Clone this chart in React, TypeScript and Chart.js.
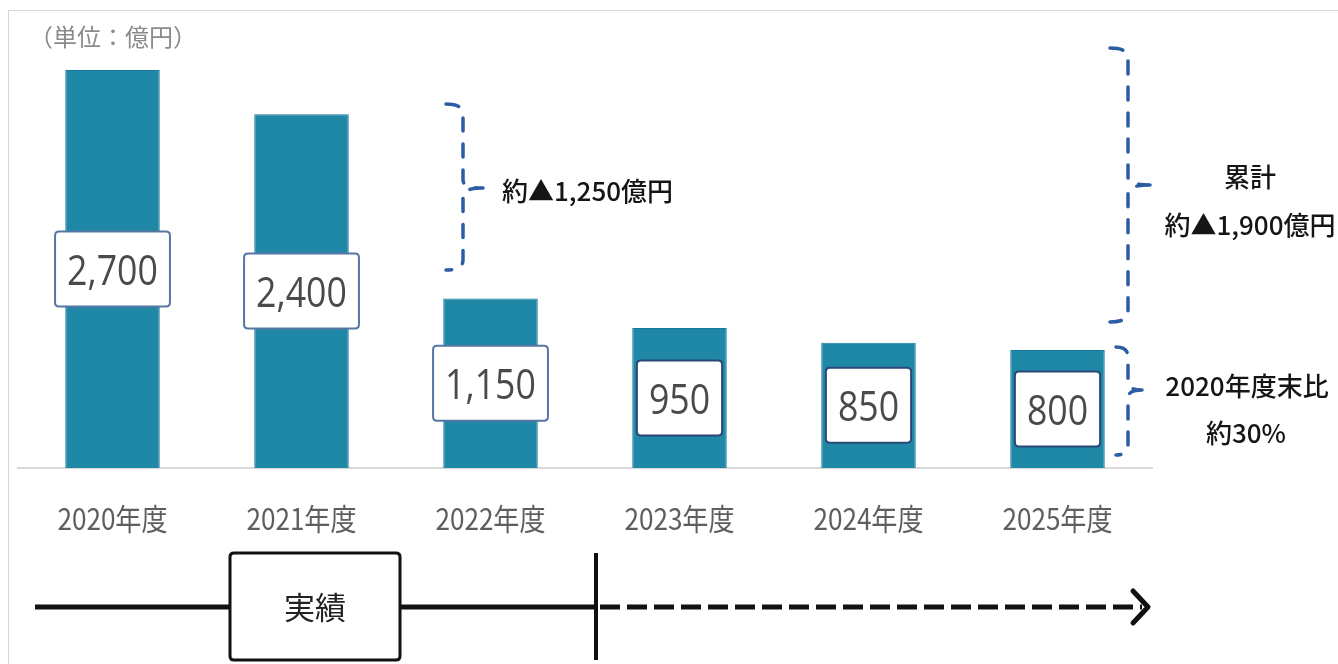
import React, { useEffect, useRef } from "react";
import { Chart, registerables } from "chart.js";

Chart.register(...registerables);

// ---- data ----
const categories = ["2020年度", "2021年度", "2022年度", "2023年度", "2024年度", "2025年度"];
const values = [2700, 2400, 1150, 950, 850, 800];
const valueLabels = values.map((v) => v.toLocaleString("en-US"));
const unitLabel = "（単位：億円）";
const noteReduction = "約▲1,250億円";
const noteTotalTitle = "累計";
const noteTotal = "約▲1,900億円";
const noteRatioTitle = "2020年度末比";
const noteRatio = "約30%";
const timelineLabel = "実績";

// ---- styles ----
const BAR_COLOR = "#1f88a7";
const BAR_BORDER = "#18779a";
const BOX_BORDERS = ["#5676a2", "#5676a2", "#5676a2", "#2a4876", "#2a4876", "#2a4876"];
const BRACE_COLOR = "#2c5ca4";
const CJK = "'Noto Sans CJK JP', 'Noto Sans', sans-serif";

function scaledText(
  ctx: CanvasRenderingContext2D,
  text: string,
  x: number,
  y: number,
  sx: number,
  align: CanvasTextAlign
) {
  ctx.save();
  ctx.translate(x, y);
  ctx.scale(sx, 1);
  ctx.textAlign = align;
  ctx.fillText(text, 0, 0);
  ctx.restore();
}

function roundRect(ctx: CanvasRenderingContext2D, x: number, y: number, w: number, h: number, r: number) {
  ctx.beginPath();
  ctx.moveTo(x + r, y);
  ctx.lineTo(x + w - r, y);
  ctx.quadraticCurveTo(x + w, y, x + w, y + r);
  ctx.lineTo(x + w, y + h - r);
  ctx.quadraticCurveTo(x + w, y + h, x + w - r, y + h);
  ctx.lineTo(x + r, y + h);
  ctx.quadraticCurveTo(x, y + h, x, y + h - r);
  ctx.lineTo(x, y + r);
  ctx.quadraticCurveTo(x, y, x + r, y);
  ctx.closePath();
}

function brace(
  ctx: CanvasRenderingContext2D,
  x: number,
  top: number,
  mid: number,
  bot: number,
  hook: number,
  cusp: number
) {
  ctx.beginPath();
  ctx.moveTo(x - hook, top);
  ctx.quadraticCurveTo(x, top, x, top + 10);
  ctx.lineTo(x, mid - 8);
  ctx.quadraticCurveTo(x, mid, x + cusp, mid);
  ctx.moveTo(x + cusp, mid);
  ctx.quadraticCurveTo(x, mid, x, mid + 8);
  ctx.lineTo(x, bot - 10);
  ctx.quadraticCurveTo(x, bot, x - hook, bot);
  ctx.stroke();
}

const overlayPlugin = {
  id: "overlay",
  beforeDraw(chart: any) {
    const ctx: CanvasRenderingContext2D = chart.ctx;
    ctx.save();
    ctx.fillStyle = "#ffffff";
    ctx.fillRect(0, 0, chart.width, chart.height);
    ctx.strokeStyle = "#d6d6d6";
    ctx.lineWidth = 1;
    ctx.beginPath();
    ctx.moveTo(8.5, chart.height);
    ctx.lineTo(8.5, 10.5);
    ctx.lineTo(chart.width, 10.5);
    ctx.stroke();
    // unit label
    ctx.fillStyle = "#8a8a8a";
    ctx.font = `24px ${CJK}`;
    ctx.textBaseline = "middle";
    ctx.textAlign = "left";
    ctx.fillText(unitLabel, 29, 37);
    ctx.restore();
  },
  afterDatasetsDraw(chart: any) {
    const ctx: CanvasRenderingContext2D = chart.ctx;
    const meta = chart.getDatasetMeta(0);
    const xScale = chart.scales.x;
    const area = chart.chartArea;
    ctx.save();

    // value boxes
    ctx.font = "42px 'Open Sans', 'DejaVu Sans', sans-serif";
    ctx.textBaseline = "alphabetic";
    meta.data.forEach((bar: any, i: number) => {
      const sx = 0.85;
      const tw = ctx.measureText(valueLabels[i]).width * sx;
      const w = tw + 24;
      const h = 75;
      const cx = bar.x;
      const cy = (bar.y + bar.base) / 2;
      roundRect(ctx, cx - w / 2, cy - h / 2, w, h, 4);
      ctx.fillStyle = "#ffffff";
      ctx.fill();
      ctx.lineWidth = 2;
      ctx.strokeStyle = BOX_BORDERS[i];
      ctx.stroke();
      ctx.fillStyle = "#4a4a4a";
      scaledText(ctx, valueLabels[i], cx, cy + 16, sx, "center");
    });

    // category labels
    ctx.font = `30px ${CJK}`;
    ctx.fillStyle = "#5e5e5e";
    categories.forEach((c, i) => {
      scaledText(ctx, c, xScale.getPixelForValue(i), area.bottom + 62, 0.87, "center");
    });

    // braces
    ctx.strokeStyle = BRACE_COLOR;
    ctx.lineWidth = 3.5;
    ctx.lineCap = "round";
    ctx.setLineDash([13, 13]);
    brace(ctx, 463, 104, 188, 270, 17, 20);
    brace(ctx, 1128, 48, 185, 322, 18, 22);
    brace(ctx, 1128, 347, 390, 455, 12, 14);
    ctx.setLineDash([]);

    // annotation text
    ctx.fillStyle = "#151515";
    ctx.textBaseline = "middle";
    ctx.font = `500 26px ${CJK}`;
    ctx.textAlign = "left";
    ctx.fillText(noteReduction, 502, 191);
    ctx.textAlign = "center";
    ctx.fillText(noteTotalTitle, 1250, 177);
    ctx.fillText(noteTotal, 1250, 225);
    ctx.fillText(noteRatioTitle, 1247, 386);
    ctx.fillText(noteRatio, 1246, 433);

    // timeline
    const ty = 607;
    ctx.strokeStyle = "#111111";
    ctx.lineWidth = 5;
    ctx.lineCap = "butt";
    ctx.beginPath();
    ctx.moveTo(35, ty);
    ctx.lineTo(596, ty);
    ctx.stroke();
    ctx.setLineDash([20, 7]);
    ctx.beginPath();
    ctx.moveTo(600, ty);
    ctx.lineTo(1142, ty);
    ctx.stroke();
    ctx.setLineDash([]);
    ctx.lineJoin = "round";
    ctx.lineCap = "round";
    ctx.beginPath();
    ctx.moveTo(1133, ty - 16);
    ctx.lineTo(1148, ty);
    ctx.lineTo(1133, ty + 16);
    ctx.stroke();
    ctx.lineCap = "butt";
    ctx.lineWidth = 4;
    ctx.beginPath();
    ctx.moveTo(596, 553);
    ctx.lineTo(596, 660);
    ctx.stroke();
    roundRect(ctx, 230, 553, 170, 107, 4);
    ctx.fillStyle = "#ffffff";
    ctx.fill();
    ctx.lineWidth = 3;
    ctx.stroke();
    ctx.fillStyle = "#222222";
    ctx.font = `31px ${CJK}`;
    ctx.textAlign = "center";
    ctx.textBaseline = "middle";
    ctx.fillText(timelineLabel, 315, 607);

    ctx.restore();
  },
};

export default function App() {
  const ref = useRef<HTMLCanvasElement | null>(null);

  useEffect(() => {
    if (!ref.current) return;
    const chart = new Chart(ref.current, {
      type: "bar",
      data: {
        labels: categories,
        datasets: [
          {
            data: values,
            backgroundColor: BAR_COLOR,
            borderColor: BAR_BORDER,
            borderWidth: 1,
            categoryPercentage: 1,
            barPercentage: 0.5,
          },
        ],
      },
      options: {
        animation: false,
        responsive: false,
        layout: { padding: { left: 18, right: 186, top: 70, bottom: 196 } },
        plugins: {
          legend: { display: false },
          tooltip: { enabled: false },
        },
        scales: {
          x: {
            display: true,
            grid: { display: false },
            ticks: { display: false },
            border: { display: true, color: "#d9d9d9", width: 2 },
            afterFit: (s: any) => {
              s.height = 0;
            },
          },
          y: { display: false, min: 0, max: 2700 },
        },
      },
      plugins: [overlayPlugin],
    } as any);
    return () => chart.destroy();
  }, []);

  return (
    <div style={{ position: "fixed", left: 0, top: 0, width: 1338, height: 664 }}>
      <canvas ref={ref} width={1338} height={664} style={{ display: "block" }} />
    </div>
  );
}
